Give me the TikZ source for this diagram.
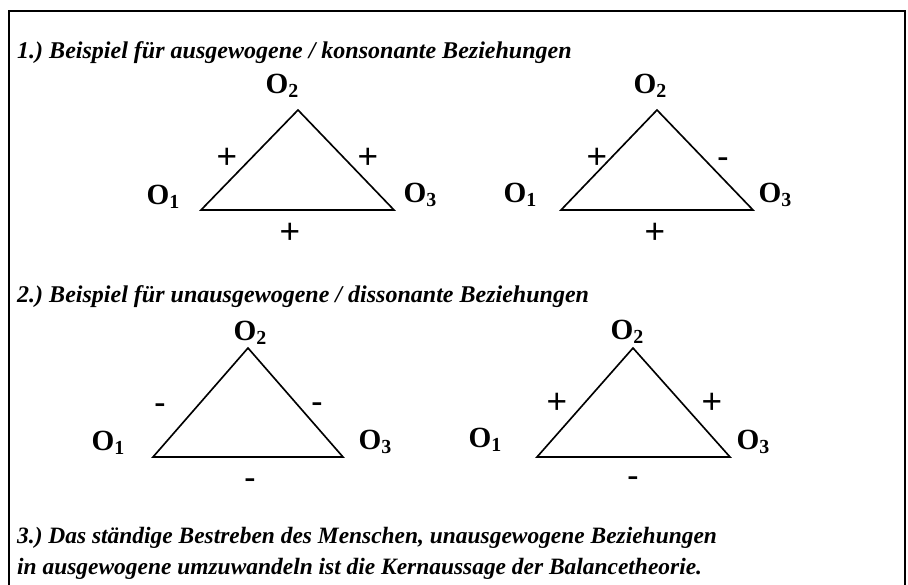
\documentclass[tikz,border=0pt]{standalone}
\usepackage{fontspec}
\setmainfont{Liberation Serif}
\newfontfamily\signfont{Liberation Sans}
\usetikzlibrary{positioning}
\frenchspacing

\newcommand{\obj}[1]{\textbf{O\raisebox{-3.5pt}{\fontsize{17}{17}\selectfont #1}}}

\begin{document}
\begin{tikzpicture}[x=0.3mm,y=-0.3mm,
 title/.style={anchor=base west,inner sep=0pt,
   font=\fontsize{20.5}{24}\selectfont\bfseries\itshape},
 obj/.style={inner sep=0pt,font=\fontsize{25}{25}\selectfont},
 sign/.style={inner sep=0pt,text height=20pt,text depth=0pt,
   font=\fontsize{30}{30}\signfont},
 edge/.style={line width=1.4pt}]
    \useasboundingbox (0,0) rectangle (908,584);
    \clip (0,0) rectangle (908,584);
    \draw[line width=1.7pt] (9,600) -- (9,11) -- (905,11) -- (905,600);

    % titles
    \node[title] (t1) at (17,58)
      {1.) Beispiel für ausgewogene / konsonante Beziehungen};
    \node[title] (t2) at (17,302)
      {2.) Beispiel für unausgewogene / dissonante Beziehungen};
    \node[title,font=\fontsize{20}{24}\selectfont\bfseries\itshape] (t3a) at (17,543)
      {3.) Das ständige Bestreben des Menschen, unausgewogene Beziehungen};
    \node[title,font=\fontsize{20}{24}\selectfont\bfseries\itshape] (t3b) at (17,574)
      {in ausgewogene umzuwandeln ist die Kernaussage der Balancetheorie.};

    % triangle corners
    \coordinate (a1) at (201,210); \coordinate (b1) at (298,110); \coordinate (c1) at (394,210);
    \coordinate (a2) at (561,210); \coordinate (b2) at (657,110); \coordinate (c2) at (753,210);
    \coordinate (a3) at (153,457); \coordinate (b3) at (248,348); \coordinate (c3) at (343,457);
    \coordinate (a4) at (537,457); \coordinate (b4) at (633,348); \coordinate (c4) at (730,457);
    \foreach \k in {1,2,3,4}
      \draw[edge] (a\k) -- (b\k) -- (c\k) -- cycle;

    % 1st example
    \node[obj] (o11) at (163,197) {\obj{1}};
    \node[obj] (o12) at (282,86) {\obj{2}};
    \node[obj] (o13) at (420,195) {\obj{3}};
    \node[sign] (s11) at (227,157) {+};
    \node[sign] (s12) at (368,157) {+};
    \node[sign] (s13) at (290,232) {+};

    % 2nd example
    \node[obj] (o21) at (520,195) {\obj{1}};
    \node[obj] (o22) at (650,86) {\obj{2}};
    \node[obj] (o23) at (775,195) {\obj{3}};
    \node[sign] (s21) at (597,157) {+};
    \node[sign] (s22) at (723,157) {-};
    \node[sign] (s23) at (655,232) {+};

    % 3rd example
    \node[obj] (o31) at (108,443) {\obj{1}};
    \node[obj] (o32) at (250,333) {\obj{2}};
    \node[obj] (o33) at (375,442) {\obj{3}};
    \node[sign] (s31) at (160,403) {-};
    \node[sign] (s32) at (317,402) {-};
    \node[sign] (s33) at (250,478) {-};

    % 4th example
    \node[obj] (o41) at (485,440) {\obj{1}};
    \node[obj] (o42) at (627,332) {\obj{2}};
    \node[obj] (o43) at (753,442) {\obj{3}};
    \node[sign] (s41) at (557,402) {+};
    \node[sign] (s42) at (712,402) {+};
    \node[sign] (s43) at (633,476) {-};
\end{tikzpicture}
\end{document}
